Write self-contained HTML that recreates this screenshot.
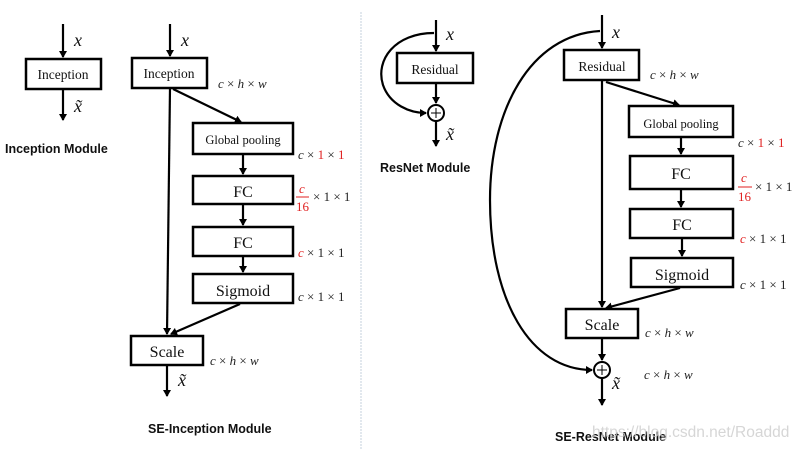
<!DOCTYPE html>
<html><head><meta charset="utf-8"><style>
html,body{margin:0;padding:0;background:#fff;}
svg{display:block}
.b{fill:#fff;stroke:#000;stroke-width:2.5}
.l{stroke:#000;stroke-width:2.2;fill:none}
.t{font-family:"Liberation Serif",serif;fill:#111;text-anchor:middle}
.d{font-family:"Liberation Serif",serif;font-size:13px;fill:#222}
.i{font-style:italic}
.r{fill:#e02020}
.m{font-family:"Liberation Serif",serif;font-style:italic;font-size:18px;fill:#111}
.h{font-family:"Liberation Sans",sans-serif;font-weight:bold;font-size:12.5px;fill:#111}
</style></head><body>
<svg width="799" height="449" viewBox="0 0 799 449">
<defs><marker id="a" markerWidth="8" markerHeight="8" refX="6" refY="4" orient="auto" markerUnits="userSpaceOnUse"><path d="M0,0 L7,4 L0,8 z" fill="#000"/></marker></defs>
<line x1="361" y1="12" x2="361" y2="449" stroke="#c5d0dc" stroke-width="1" stroke-dasharray="2,1"/>

<!-- Inception module -->
<line class="l" x1="63" y1="24" x2="63" y2="57" marker-end="url(#a)"/>
<text class="m" x="74" y="46">x</text>
<rect class="b" x="26" y="59" width="75" height="30"/>
<text class="t" x="63" y="79" font-size="13.5">Inception</text>
<line class="l" x1="63" y1="89" x2="63" y2="120" marker-end="url(#a)"/>
<text class="m" x="74" y="112">x̃</text>
<text class="h" x="5" y="153">Inception Module</text>

<!-- SE-Inception -->
<line class="l" x1="170" y1="24" x2="170" y2="56" marker-end="url(#a)"/>
<text class="m" x="181" y="46">x</text>
<rect class="b" x="132" y="58" width="75" height="30"/>
<text class="t" x="169" y="78" font-size="13.5">Inception</text>
<text class="d" x="218" y="88"><tspan class="i">c</tspan> × <tspan class="i">h</tspan> × <tspan class="i">w</tspan></text>
<line class="l" x1="170" y1="88" x2="167" y2="334" marker-end="url(#a)"/>
<line class="l" x1="173" y1="89" x2="241" y2="122" marker-end="url(#a)"/>
<rect class="b" x="193" y="123" width="100" height="31"/>
<text class="t" x="243" y="144" font-size="12.5">Global pooling</text>
<text class="d" x="298" y="159"><tspan class="i">c</tspan> × <tspan class="r">1</tspan> × <tspan class="r">1</tspan></text>
<line class="l" x1="243" y1="154" x2="243" y2="174" marker-end="url(#a)"/>
<rect class="b" x="193" y="176" width="100" height="28"/>
<text class="t" x="243" y="197" font-size="16">FC</text>
<text class="d r i" x="299" y="193">c</text>
<line x1="296" y1="197" x2="309" y2="197" stroke="#e02020" stroke-width="1"/>
<text class="d r" x="296" y="211">16</text>
<text class="d" x="313" y="201">× 1 × 1</text>
<line class="l" x1="243" y1="204" x2="243" y2="225" marker-end="url(#a)"/>
<rect class="b" x="193" y="227" width="100" height="29"/>
<text class="t" x="243" y="248" font-size="16">FC</text>
<text class="d" x="298" y="257"><tspan class="r i">c</tspan> × 1 × 1</text>
<line class="l" x1="243" y1="256" x2="243" y2="272" marker-end="url(#a)"/>
<rect class="b" x="193" y="274" width="100" height="29"/>
<text class="t" x="243" y="296" font-size="16">Sigmoid</text>
<text class="d" x="298" y="301"><tspan class="i">c</tspan> × 1 × 1</text>
<line class="l" x1="240" y1="304" x2="171" y2="334" marker-end="url(#a)"/>
<rect class="b" x="131" y="336" width="72" height="29"/>
<text class="t" x="167" y="357" font-size="16">Scale</text>
<text class="d" x="210" y="365"><tspan class="i">c</tspan> × <tspan class="i">h</tspan> × <tspan class="i">w</tspan></text>
<line class="l" x1="167" y1="365" x2="167" y2="396" marker-end="url(#a)"/>
<text class="m" x="178" y="386">x̃</text>
<text class="h" x="148" y="433">SE-Inception Module</text>

<!-- ResNet -->
<line class="l" x1="436" y1="20" x2="436" y2="51" marker-end="url(#a)"/>
<text class="m" x="446" y="40">x</text>
<path class="l" d="M434,33 C395,33 375,60 383,85 C390,105 410,113 426,113" marker-end="url(#a)"/>
<rect class="b" x="397" y="53" width="76" height="30"/>
<text class="t" x="435" y="74" font-size="13.5">Residual</text>
<line class="l" x1="436" y1="83" x2="436" y2="103" marker-end="url(#a)"/>
<circle cx="436" cy="113" r="8" fill="#fff" stroke="#000" stroke-width="2"/>
<path d="M431,113 h10 M436,108 v10" stroke="#000" stroke-width="1"/>
<line class="l" x1="436" y1="121" x2="436" y2="146" marker-end="url(#a)"/>
<text class="m" x="446" y="140">x̃</text>
<text class="h" x="380" y="172">ResNet Module</text>

<!-- SE-ResNet -->
<line class="l" x1="602" y1="15" x2="602" y2="48" marker-end="url(#a)"/>
<text class="m" x="612" y="38">x</text>
<path class="l" d="M600,31 C530,35 490,110 490,200 C490,300 530,370 592,370" marker-end="url(#a)"/>
<rect class="b" x="564" y="50" width="75" height="30"/>
<text class="t" x="602" y="71" font-size="13.5">Residual</text>
<text class="d" x="650" y="79"><tspan class="i">c</tspan> × <tspan class="i">h</tspan> × <tspan class="i">w</tspan></text>
<line class="l" x1="602" y1="80" x2="602" y2="307" marker-end="url(#a)"/>
<line class="l" x1="606" y1="82" x2="679" y2="105" marker-end="url(#a)"/>
<rect class="b" x="629" y="106" width="104" height="31"/>
<text class="t" x="681" y="128" font-size="12.5">Global pooling</text>
<text class="d" x="738" y="147"><tspan class="i">c</tspan> × <tspan class="r">1</tspan> × <tspan class="r">1</tspan></text>
<line class="l" x1="681" y1="137" x2="681" y2="154" marker-end="url(#a)"/>
<rect class="b" x="630" y="156" width="103" height="33"/>
<text class="t" x="681" y="179" font-size="16">FC</text>
<text class="d r i" x="741" y="182">c</text>
<line x1="738" y1="187" x2="752" y2="187" stroke="#e02020" stroke-width="1"/>
<text class="d r" x="738" y="201">16</text>
<text class="d" x="755" y="191">× 1 × 1</text>
<line class="l" x1="681" y1="189" x2="681" y2="207" marker-end="url(#a)"/>
<rect class="b" x="630" y="209" width="103" height="29"/>
<text class="t" x="682" y="230" font-size="16">FC</text>
<text class="d" x="740" y="243"><tspan class="r i">c</tspan> × 1 × 1</text>
<line class="l" x1="682" y1="238" x2="682" y2="256" marker-end="url(#a)"/>
<rect class="b" x="631" y="258" width="102" height="29"/>
<text class="t" x="682" y="280" font-size="16">Sigmoid</text>
<text class="d" x="740" y="289"><tspan class="i">c</tspan> × 1 × 1</text>
<line class="l" x1="680" y1="288" x2="606" y2="308" marker-end="url(#a)"/>
<rect class="b" x="566" y="309" width="72" height="29"/>
<text class="t" x="602" y="330" font-size="16">Scale</text>
<text class="d" x="645" y="337"><tspan class="i">c</tspan> × <tspan class="i">h</tspan> × <tspan class="i">w</tspan></text>
<line class="l" x1="602" y1="338" x2="602" y2="360" marker-end="url(#a)"/>
<circle cx="602" cy="370" r="8" fill="#fff" stroke="#000" stroke-width="2"/>
<path d="M597,370 h10 M602,365 v10" stroke="#000" stroke-width="1"/>
<text class="d" x="644" y="379"><tspan class="i">c</tspan> × <tspan class="i">h</tspan> × <tspan class="i">w</tspan></text>
<line class="l" x1="602" y1="378" x2="602" y2="405" marker-end="url(#a)"/>
<text class="m" x="612" y="389">x̃</text>
<text class="h" x="555" y="441">SE-ResNet Module</text>
<text x="592" y="437" font-family="Liberation Sans,sans-serif" font-size="15.5" fill="#ccc" fill-opacity="0.8">https://blog.csdn.net/Roaddd</text>
</svg>
</body></html>
